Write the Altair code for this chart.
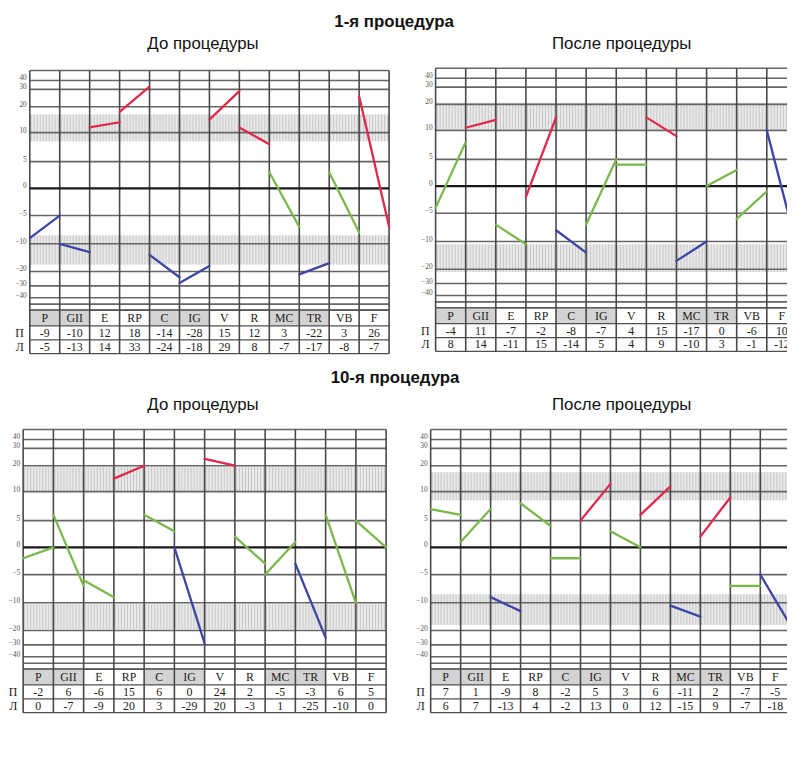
import altair as alt
import pandas as pd
import numpy as np

channels = ["P", "GII", "E", "RP", "C", "IG", "V", "R", "MC", "TR", "VB", "F"]
header_shaded = [1, 1, 0, 0, 1, 1, 0, 0, 1, 1, 0, 0]
tick_labels = [40, 30, 20, 10, 5, 0, -5, -10, -20, -30, -40]
grid_levels = [50, 40, 30, 20, 10, 5, -5, -10, -20, -30, -40, -45, -50]

# 1-я процедура, до процедуры
p1_right = [-9, -10, 12, 18, -14, -28, 15, 12, 3, -22, 3, 26]
p1_left = [-5, -13, 14, 33, -24, -18, 29, 8, -7, -17, -8, -7]
p1_colors = ["b", "b", "r", "r", "b", "b", "r", "r", "g", "b", "g", "r"]
p1_band_up = [8.5, 17]
p1_band_dn = [-8.5, -17.5]

# 1-я процедура, после процедуры
p2_right = [-4, 11, -7, -2, -8, -7, 4, 15, -17, 0, -6, 10]
p2_left = [8, 14, -11, 15, -14, 5, 4, 9, -10, 3, -1, -12]
p2_colors = ["g", "r", "g", "r", "b", "g", "g", "r", "b", "g", "g", "b"]
p2_band_up = [10.5, 21]
p2_band_dn = [-11, -22]

# 10-я процедура, до процедуры
p3_right = [-2, 6, -6, 15, 6, 0, 24, 2, -5, -3, 6, 5]
p3_left = [0, -7, -9, 20, 3, -29, 20, -3, 1, -25, -10, 0]
p3_colors = ["g", "g", "g", "r", "g", "b", "r", "g", "g", "b", "g", "g"]
p3_band_up = [10, 19.5]
p3_band_dn = [-10.5, -19.5]

# 10-я процедура, после процедуры
p4_right = [7, 1, -9, 8, -2, 5, 3, 6, -11, 2, -7, -5]
p4_left = [6, 7, -13, 4, -2, 13, 0, 12, -15, 9, -7, -18]
p4_colors = ["g", "g", "b", "g", "g", "r", "g", "r", "b", "r", "g", "b"]
p4_band_up = [8.5, 17.5]
p4_band_dn = [-8.5, -18]

# nonlinear (piecewise) vertical scale of the form
ydom = [-50, -45, -40, -30, -20, -10, -5, 0, 5, 10, 20, 30, 40, 50]
yoff = [242, 236, 229.5, 217.5, 203, 175, 146.5, 119, 92, 62.7, 36.5, 19, 10, 0]

color_scale = alt.Scale(domain=["r", "b", "g"], range=["#e0284a", "#3d45a6", "#7ab84c"])
SERIF = "Liberation Serif"
SANS = "Liberation Sans"


def make_panel(right, left, cols, band_up, band_dn, x0, x1, top):
    n = len(channels)
    idx = np.arange(n)
    xs = alt.Scale(domain=[0, n], range=[x0, x1], nice=False, zero=False)
    ys = alt.Scale(domain=ydom, range=[top + o for o in yoff], nice=False, zero=False)
    tb = top + yoff[0]
    ts = alt.Scale(domain=[0, 1, 2, 3], range=[tb, tb + 16, tb + 30, tb + 44], nice=False, zero=False)

    def X(f):
        return alt.X(f, type="quantitative", scale=xs, axis=None)

    def Y(f):
        return alt.Y(f, type="quantitative", scale=ys, axis=None)

    def T(f):
        return alt.Y(f, type="quantitative", scale=ts, axis=None)

    bands = pd.DataFrame({"xa": [0, 0], "xb": [n, n],
                          "ya": [band_up[0], band_dn[0]], "yb": [band_up[1], band_dn[1]]})
    band_layer = alt.Chart(bands).mark_rect(fill="#eaeaea").encode(
        x=X("xa"), x2="xb", y=Y("ya"), y2="yb")

    sx = np.arange(0.05, n, 0.1)
    stripes = pd.DataFrame({
        "sx": np.concatenate([sx, sx]),
        "ya": [band_up[0]] * len(sx) + [band_dn[0]] * len(sx),
        "yb": [band_up[1]] * len(sx) + [band_dn[1]] * len(sx),
    })
    stripe_layer = alt.Chart(stripes).mark_rule(color="#c2c2c2", strokeWidth=0.9).encode(
        x=X("sx"), y=Y("ya"), y2="yb")

    grid = pd.DataFrame({"lv": grid_levels, "xa": 0, "xb": n})
    grid_layer = alt.Chart(grid).mark_rule(color="#666666", strokeWidth=1.6).encode(
        x=X("xa"), x2="xb", y=Y("lv"))

    zero = pd.DataFrame({"lv": [0], "xa": [0], "xb": [n]})
    zero_layer = alt.Chart(zero).mark_rule(color="#1a1a1a", strokeWidth=2.4).encode(
        x=X("xa"), x2="xb", y=Y("lv"))

    vert = pd.DataFrame({"xi": np.arange(n + 1), "ya": -50, "yb": 50})
    vert_layer = alt.Chart(vert).mark_rule(color="#484848", strokeWidth=1.6).encode(
        x=X("xi"), y=Y("ya"), y2="yb")

    seg = pd.DataFrame({"xa": idx, "xb": idx + 1, "r": right, "l": left, "c": cols})
    seg_layer = alt.Chart(seg).mark_rule(strokeWidth=2.3, strokeCap="round").encode(
        x=X("xa"), x2="xb", y=Y("r"), y2="l",
        color=alt.Color("c:N", scale=color_scale, legend=None))

    ticks = pd.DataFrame({"v": tick_labels, "xa": 0})
    tick_layer = alt.Chart(ticks).mark_text(
        align="right", baseline="middle", dx=-3, dy=-2, fontSize=7.5, font=SERIF, color="#555"
    ).encode(x=X("xa"), y=Y("v"), text=alt.Text("v:Q"))

    plot = alt.layer(band_layer, stripe_layer, grid_layer, vert_layer, zero_layer,
                     seg_layer, tick_layer)

    hdr = pd.DataFrame({"xa": idx, "xb": idx + 1, "ya": 0, "yb": 1, "s": header_shaded})
    hdr = hdr[hdr["s"] == 1]
    hdr_layer = alt.Chart(hdr).mark_rect(fill="#d3d3d3").encode(
        x=X("xa"), x2="xb", y=T("ya"), y2="yb")

    trows = pd.DataFrame({"rv": [0, 1, 2, 3], "xa": 0, "xb": n})
    trow_layer = alt.Chart(trows).mark_rule(color="#505050", strokeWidth=1.3).encode(
        x=X("xa"), x2="xb", y=T("rv"))

    tvert = pd.DataFrame({"xi": np.arange(n + 1), "ya": 0, "yb": 3})
    tvert_layer = alt.Chart(tvert).mark_rule(color="#484848", strokeWidth=1.6).encode(
        x=X("xi"), y=T("ya"), y2="yb")

    cells = pd.DataFrame({
        "xc": np.concatenate([idx + 0.5] * 3),
        "rc": [0.5] * n + [1.5] * n + [2.5] * n,
        "t": channels + [str(v) for v in right] + [str(v) for v in left],
    })
    cell_layer = alt.Chart(cells).mark_text(
        baseline="middle", fontSize=12, font=SERIF, color="#222"
    ).encode(x=X("xc"), y=T("rc"), text="t:N")

    rowlab = pd.DataFrame({"t": ["П", "Л"], "rc": [1.5, 2.5], "xa": 0})
    rowlab_layer = alt.Chart(rowlab).mark_text(
        align="right", baseline="middle", dx=-6, fontSize=12, font=SERIF, color="#222"
    ).encode(x=X("xa"), y=T("rc"), text="t:N")

    table = alt.layer(hdr_layer, trow_layer, tvert_layer, cell_layer, rowlab_layer)
    return [plot, table]


def label(txt, x, y, size, weight="normal"):
    return alt.Chart(pd.DataFrame({"t": [txt]})).mark_text(
        align="center", baseline="middle", fontSize=size, fontWeight=weight, font=SANS, color="#111"
    ).encode(x=alt.value(x), y=alt.value(y), text="t:N")


panels = []
panels += make_panel(p1_right, p1_left, p1_colors, p1_band_up, p1_band_dn, 22, 385, 59.3)
panels += make_panel(p2_right, p2_left, p2_colors, p2_band_up, p2_band_dn, 432, 797, 57)
panels += make_panel(p3_right, p3_left, p3_colors, p3_band_up, p3_band_dn, 15.3, 382, 422)
panels += make_panel(p4_right, p4_left, p4_colors, p4_band_up, p4_band_dn, 427, 790.3, 422)

titles = [
    label("1-я процедура", 390, 10, 17, "bold"),
    label("До процедуры", 197, 33, 17),
    label("После процедуры", 620, 33, 17),
    label("10-я процедура", 391, 370, 17, "bold"),
    label("До процедуры", 197, 397, 17),
    label("После процедуры", 620, 397, 17),
]

chart = alt.layer(*panels, *titles).resolve_scale(
    x="independent", y="independent"
).properties(
    width=787, height=760, padding=0,
    autosize=alt.AutoSizeParams(type="none"),
).configure_view(stroke=None)

chart.save("out.html", embed_options={"renderer": "svg", "actions": False})
